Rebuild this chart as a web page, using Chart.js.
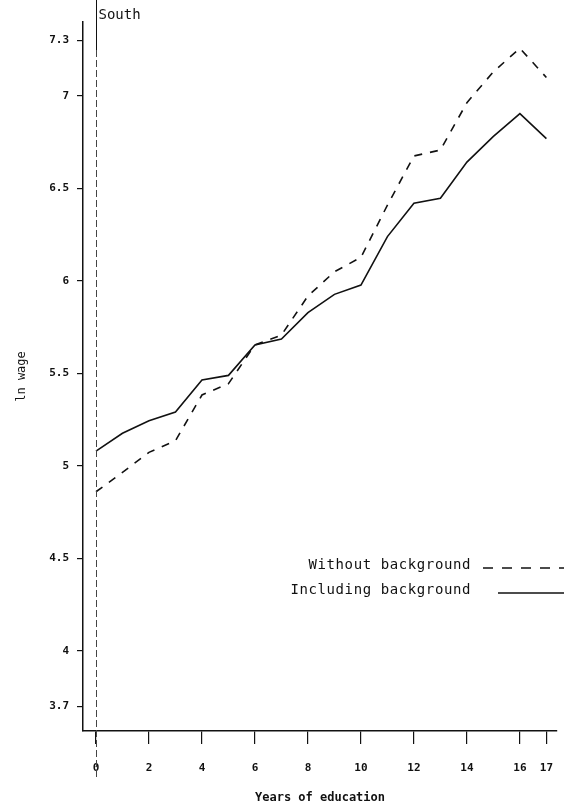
<!DOCTYPE html>
<html>
<head>
<meta charset="utf-8">
<style>
  html, body { margin: 0; padding: 0; background: #fff; }
  canvas { display: block; }
</style>
<script src="https://cdn.jsdelivr.net/npm/chart.js@4"></script>
</head>
<body>
<canvas id="wage" width="564" height="807"></canvas>
<script>
// ln wage by years of schooling, South region
const years = [0, 1, 2, 3, 4, 5, 6, 7, 8, 9, 10, 11, 12, 13, 14, 15, 16, 17];
const withoutBackground = [4.861, 4.966, 5.074, 5.137, 5.384, 5.445, 5.655, 5.708, 5.919, 6.05, 6.128, 6.41, 6.676, 6.708, 6.964, 7.131, 7.258, 7.10];
const includingBackground = [5.081, 5.177, 5.245, 5.292, 5.465, 5.49, 5.654, 5.686, 5.829, 5.928, 5.978, 6.24, 6.42, 6.447, 6.643, 6.782, 6.905, 6.77];
const yTicks = [3.7, 4, 4.5, 5, 5.5, 6, 6.5, 7, 7.3];
const xTicks = [0, 2, 4, 6, 8, 10, 12, 14, 16, 17];
const regionLabel = 'South';

const MONO = '"DejaVu Sans Mono", "Liberation Mono", monospace';
const INK = '#111';

const toPoints = (vals) => years.map((x, i) => ({ x, y: vals[i] }));

// vertical line at zero years, region label, and the legend at lower right
const annotations = {
  id: 'annotations',
  afterDraw(chart) {
    const { ctx } = chart;
    const x0 = Math.round(chart.scales.x.getPixelForValue(0)) + 0.5;
    ctx.save();
    ctx.strokeStyle = INK;
    ctx.lineWidth = 1;
    ctx.beginPath();
    ctx.moveTo(x0, 0);
    ctx.lineTo(x0, 50);
    ctx.stroke();
    ctx.strokeStyle = '#444';
    ctx.setLineDash([7, 3]);
    ctx.beginPath();
    ctx.moveTo(x0, 50);
    ctx.lineTo(x0, 778);
    ctx.stroke();
    ctx.setLineDash([]);

    ctx.fillStyle = INK;
    ctx.font = '14px ' + MONO;
    ctx.textBaseline = 'middle';
    ctx.textAlign = 'left';
    ctx.fillText(regionLabel, x0 + 2, 15);

    const items = [
      { text: 'Without background', y: 565, dash: [10, 9], x1: 483 },
      { text: 'Including background', y: 590, dash: [], x1: 498 }
    ];
    ctx.textAlign = 'right';
    ctx.letterSpacing = '0.6px';
    items.forEach((it) => {
      ctx.fillText(it.text, 471, it.y);
      ctx.setLineDash(it.dash);
      ctx.lineWidth = 1.5;
      ctx.strokeStyle = INK;
      ctx.beginPath();
      ctx.moveTo(it.x1, it.y + 3);
      ctx.lineTo(564, it.y + 3);
      ctx.stroke();
    });
    ctx.restore();
  }
};

new Chart(document.getElementById('wage'), {
  type: 'line',
  data: {
    datasets: [
      {
        label: 'Without background',
        data: toPoints(withoutBackground),
        borderColor: INK,
        borderWidth: 1.6,
        borderDash: [8, 8],
        pointRadius: 0,
        tension: 0,
        fill: false
      },
      {
        label: 'Including background',
        data: toPoints(includingBackground),
        borderColor: INK,
        borderWidth: 1.6,
        pointRadius: 0,
        tension: 0,
        fill: false
      }
    ]
  },
  options: {
    responsive: false,
    animation: false,
    layout: { padding: { top: 22, right: 7, left: 0, bottom: 0 } },
    plugins: { legend: { display: false }, tooltip: { enabled: false } },
    scales: {
      x: {
        type: 'linear',
        min: -0.49,
        max: 17.4,
        afterBuildTicks: (scale) => { scale.ticks = xTicks.map((v) => ({ value: v })); },
        afterFit: (scale) => {
          scale.height = 76;
          // keep the end labels from shrinking the plot width
          scale.paddingLeft = 0;
          scale.paddingRight = 0;
        },
        grid: { drawOnChartArea: false, drawTicks: true, tickLength: 13, color: INK, lineWidth: 1.2 },
        border: { color: INK, width: 1.5 },
        ticks: {
          color: INK,
          padding: 18,
          maxRotation: 0,
          autoSkip: false,
          font: { family: MONO, size: 11, weight: 'bold' }
        },
        title: {
          display: true,
          text: 'Years of education',
          color: INK,
          padding: { top: 0, bottom: 2 },
          font: { family: MONO, size: 12, weight: 'bold' }
        }
      },
      y: {
        type: 'linear',
        min: 3.568,
        max: 7.4,
        afterBuildTicks: (scale) => { scale.ticks = yTicks.map((v) => ({ value: v })); },
        afterFit: (scale) => { scale.width = 83; },
        grid: { drawOnChartArea: false, drawTicks: true, tickLength: 6, color: INK, lineWidth: 1.2 },
        border: { color: INK, width: 1.5 },
        ticks: {
          color: INK,
          padding: 8,
          autoSkip: false,
          font: { family: MONO, size: 11, weight: 'bold' },
          callback: (v) => String(v)
        },
        title: {
          display: true,
          text: 'ln wage',
          color: INK,
          padding: { top: 15, bottom: 0 },
          font: { family: MONO, size: 12 }
        }
      }
    }
  },
  plugins: [annotations]
});
</script>
</body>
</html>
